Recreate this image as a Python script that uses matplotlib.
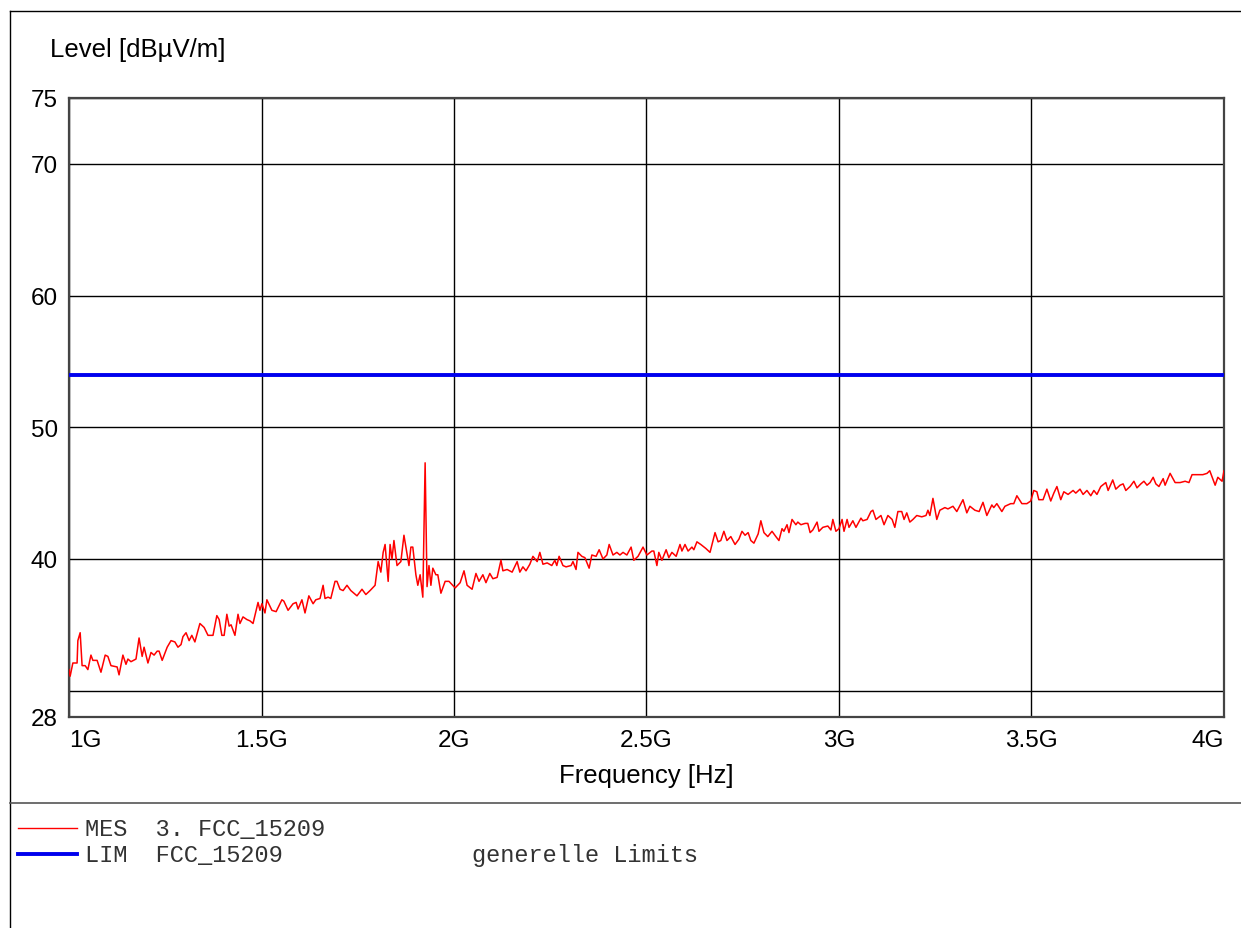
import matplotlib
matplotlib.use("Agg")
import matplotlib.pyplot as plt
from matplotlib.lines import Line2D
import numpy as np

# Measured trace (frequency in MHz, level in dBuV/m)
freq_mhz = [
    1000, 1003, 1010, 1021, 1023, 1029, 1034, 1042, 1049, 1057, 1062, 1073, 1083, 1094, 1101, 1109,
    1125, 1130, 1140, 1148, 1153, 1161, 1174, 1182, 1190, 1195, 1205, 1213, 1221, 1229, 1234, 1242,
    1255, 1265, 1275, 1283, 1291, 1296, 1304, 1312, 1319, 1327, 1340, 1351, 1361, 1374, 1384, 1390,
    1397, 1403, 1410, 1416, 1421, 1431, 1439, 1444, 1452, 1462, 1470, 1478, 1486, 1491, 1496, 1501,
    1509, 1514, 1527, 1538, 1553, 1558, 1569, 1582, 1590, 1595, 1605, 1613, 1623, 1634, 1641, 1652,
    1660, 1665, 1673, 1680, 1691, 1696, 1704, 1712, 1722, 1732, 1748, 1761, 1771, 1782, 1795, 1803,
    1810, 1816, 1821, 1829, 1834, 1839, 1844, 1852, 1862, 1870, 1883, 1888, 1893, 1901, 1906, 1912,
    1919, 1925, 1930, 1935, 1940, 1945, 1953, 1958, 1966, 1977, 1987, 2003, 2016, 2026, 2034, 2047,
    2057, 2065, 2075, 2083, 2093, 2101, 2112, 2122, 2127, 2138, 2151, 2164, 2171, 2179, 2187, 2197,
    2205, 2216, 2223, 2231, 2242, 2254, 2262, 2267, 2273, 2283, 2291, 2304, 2309, 2317, 2322, 2332,
    2340, 2351, 2358, 2369, 2377, 2387, 2397, 2403, 2413, 2423, 2431, 2439, 2449, 2460, 2467, 2478,
    2491, 2501, 2514, 2519, 2527, 2532, 2540, 2551, 2558, 2566, 2577, 2587, 2592, 2600, 2608, 2618,
    2623, 2631, 2641, 2654, 2665, 2678, 2686, 2693, 2701, 2709, 2719, 2730, 2740, 2748, 2756, 2764,
    2771, 2779, 2790, 2797, 2805, 2815, 2826, 2836, 2844, 2852, 2857, 2865, 2870, 2878, 2888, 2893,
    2901, 2912, 2919, 2925, 2932, 2943, 2948, 2958, 2971, 2979, 2984, 2992, 3000, 3008, 3013, 3021,
    3026, 3036, 3044, 3057, 3062, 3073, 3083, 3088, 3096, 3109, 3117, 3127, 3138, 3145, 3153, 3163,
    3169, 3176, 3184, 3192, 3202, 3215, 3226, 3231, 3236, 3244, 3254, 3262, 3275, 3283, 3296, 3306,
    3322, 3332, 3340, 3353, 3364, 3374, 3384, 3397, 3402, 3410, 3423, 3431, 3446, 3454, 3462, 3475,
    3488, 3498, 3506, 3514, 3519, 3530, 3540, 3550, 3558, 3566, 3576, 3584, 3595, 3608, 3615, 3626,
    3634, 3644, 3654, 3662, 3670, 3680, 3693, 3699, 3711, 3719, 3730, 3738, 3745, 3756, 3766, 3774,
    3784, 3792, 3800, 3808, 3816, 3823, 3831, 3842, 3847, 3860, 3873, 3886, 3899, 3909, 3917, 3927,
    3935, 3945, 3956, 3963, 3977, 3984, 3995, 4000,
]
level_db = [
    31.6, 31.1, 32.1, 32.1, 33.8, 34.4, 31.9, 31.9, 31.6, 32.7, 32.3, 32.3, 31.4, 32.7, 32.6, 31.9,
    31.8, 31.2, 32.7, 32.0, 32.4, 32.2, 32.4, 34.0, 32.6, 33.3, 32.1, 32.9, 32.7, 33.0, 33.0, 32.3,
    33.3, 33.8, 33.7, 33.3, 33.5, 34.1, 34.4, 33.8, 34.2, 33.7, 35.1, 34.8, 34.2, 34.2, 35.7, 35.4,
    34.2, 34.2, 35.8, 34.9, 35.0, 34.2, 35.8, 35.1, 35.6, 35.4, 35.3, 35.1, 36.1, 36.7, 36.1, 36.6,
    35.9, 36.9, 36.1, 36.0, 36.9, 36.8, 36.1, 36.6, 36.7, 36.2, 36.9, 35.9, 37.2, 36.6, 36.9, 37.0,
    38.0, 37.0, 37.1, 37.0, 38.3, 38.3, 37.7, 37.6, 38.0, 37.6, 37.2, 37.7, 37.3, 37.6, 38.0, 39.8,
    39.0, 40.5, 41.1, 38.3, 41.1, 40.0, 41.4, 39.5, 39.8, 41.8, 39.5, 40.9, 40.9, 38.8, 38.0, 38.8,
    37.1, 47.3, 37.9, 39.5, 38.0, 39.3, 38.8, 38.8, 37.4, 38.3, 38.3, 37.8, 38.2, 39.1, 38.0, 37.7,
    38.9, 38.3, 38.8, 38.2, 38.9, 38.5, 38.6, 39.9, 39.1, 39.2, 39.0, 39.8, 39.0, 39.4, 39.1, 39.6,
    40.2, 39.8, 40.5, 39.6, 39.7, 39.5, 39.9, 39.5, 40.2, 39.5, 39.4, 39.5, 39.8, 39.2, 40.5, 40.2,
    40.1, 39.3, 40.3, 40.2, 40.7, 40.0, 40.3, 41.1, 40.3, 40.5, 40.3, 40.5, 40.3, 40.9, 39.9, 40.2,
    40.9, 40.3, 40.6, 40.6, 39.5, 40.5, 39.9, 40.7, 40.1, 40.5, 40.2, 41.1, 40.6, 41.1, 40.6, 40.9,
    40.7, 41.3, 41.1, 40.8, 40.5, 42.0, 41.3, 41.4, 42.1, 41.4, 41.7, 41.1, 41.5, 42.1, 41.8, 42.0,
    41.4, 41.2, 41.9, 42.9, 42.0, 41.7, 42.1, 41.7, 41.4, 42.3, 42.1, 42.6, 42.0, 43.0, 42.6, 42.8,
    42.6, 42.7, 42.7, 42.0, 42.2, 42.8, 42.1, 42.4, 42.5, 42.2, 43.0, 42.1, 42.3, 43.0, 42.1, 43.0,
    42.4, 42.9, 42.4, 43.1, 42.9, 43.0, 43.6, 43.7, 43.0, 43.3, 42.6, 43.3, 43.0, 42.4, 43.6, 43.6,
    43.0, 43.5, 42.8, 43.0, 43.3, 43.2, 43.3, 43.7, 43.3, 44.6, 43.0, 43.7, 43.9, 43.8, 44.0, 43.6,
    44.5, 43.5, 44.0, 43.7, 43.6, 44.3, 43.3, 44.1, 43.9, 44.2, 43.6, 44.0, 44.2, 44.2, 44.8, 44.2,
    44.2, 44.4, 45.2, 45.1, 44.5, 44.5, 45.3, 44.4, 45.0, 45.5, 44.5, 45.1, 44.9, 45.2, 45.0, 45.3,
    44.9, 45.2, 44.8, 45.2, 44.9, 45.5, 45.8, 45.2, 46.0, 45.3, 45.6, 45.7, 45.2, 45.5, 45.9, 45.4,
    45.7, 45.9, 45.6, 45.8, 46.2, 45.7, 45.5, 46.1, 45.6, 46.5, 45.8, 45.8, 45.9, 45.8, 46.4, 46.4,
    46.4, 46.4, 46.5, 46.7, 45.6, 46.2, 45.9, 46.7,
]

limit_freq_mhz = [1000, 4000]
limit_db = [54.0, 54.0]

x_ticks_ghz = [1.0, 1.5, 2.0, 2.5, 3.0, 3.5, 4.0]
x_tick_labels = ["1G", "1.5G", "2G", "2.5G", "3G", "3.5G", "4G"]
y_ticks = [28, 30, 40, 50, 60, 70, 75]
y_tick_labels = ["28", "", "40", "50", "60", "70", "75"]

SANS = "Liberation Sans"
MONO = "Liberation Mono"

fig = plt.figure(figsize=(12.41, 9.29), dpi=100)
W, H = 1241, 929
ax = fig.add_axes([69 / W, 1 - 718 / H, (1224 - 69) / W, (718 - 99) / H])

fx = np.array(freq_mhz) * 1e6
ax.plot(fx, level_db, color="#ff0000", lw=1.1, zorder=3)
ax.plot(np.array(limit_freq_mhz) * 1e6, limit_db, color="#0000ee", lw=2.8, zorder=3,
        solid_capstyle="butt")

ax.set_xlim(1e9, 4e9)
ax.set_ylim(28, 75)
ax.set_xticks([v * 1e9 for v in x_ticks_ghz])
ax.set_xticklabels(x_tick_labels, fontsize=17.5, family=SANS)
ax.set_yticks(y_ticks)
ax.set_yticklabels(y_tick_labels, fontsize=17.5, family=SANS)
ax.tick_params(length=0, pad=9, axis="x")
ax.tick_params(length=0, pad=8, axis="y")
lbls = ax.get_xticklabels()
lbls[0].set_horizontalalignment("left")
lbls[-1].set_horizontalalignment("right")
ax.grid(True, color="black", lw=1.0, zorder=1)
for s in ax.spines.values():
    s.set_color("#444444")
    s.set_linewidth(1.6)

fig.text(50 / W, 1 - 50 / H, "Level [dBµV/m]", fontsize=18.5, family=SANS,
         ha="left", va="center")
fig.text(646 / W, 1 - 776 / H, "Frequency [Hz]", fontsize=18.5, family=SANS,
         ha="center", va="center")

# frame lines
fig.add_artist(Line2D([10 / W, 1.0], [1 - 12 / H, 1 - 12 / H], color="black", lw=1.0))
fig.add_artist(Line2D([10 / W, 10 / W], [0, 1 - 12 / H], color="black", lw=1.0))
fig.add_artist(Line2D([10 / W, 1.0], [1 - 804 / H, 1 - 804 / H], color="#555555", lw=1.2))

# legend block
fig.add_artist(Line2D([18 / W, 77 / W], [1 - 829 / H, 1 - 829 / H], color="#ff0000", lw=1.0))
fig.add_artist(Line2D([18 / W, 77 / W], [1 - 855 / H, 1 - 855 / H], color="#0000ee", lw=2.8))
fig.text(85 / W, 1 - 830 / H, "MES  3. FCC_15209", fontsize=17, family=MONO,
         ha="left", va="center", color="#333333")
fig.text(85 / W, 1 - 856 / H, "LIM  FCC_15209", fontsize=17, family=MONO,
         ha="left", va="center", color="#333333")
fig.text(472 / W, 1 - 856 / H, "generelle Limits", fontsize=17, family=MONO,
         ha="left", va="center", color="#333333")

fig.savefig("out.png", dpi=100, facecolor="white")
